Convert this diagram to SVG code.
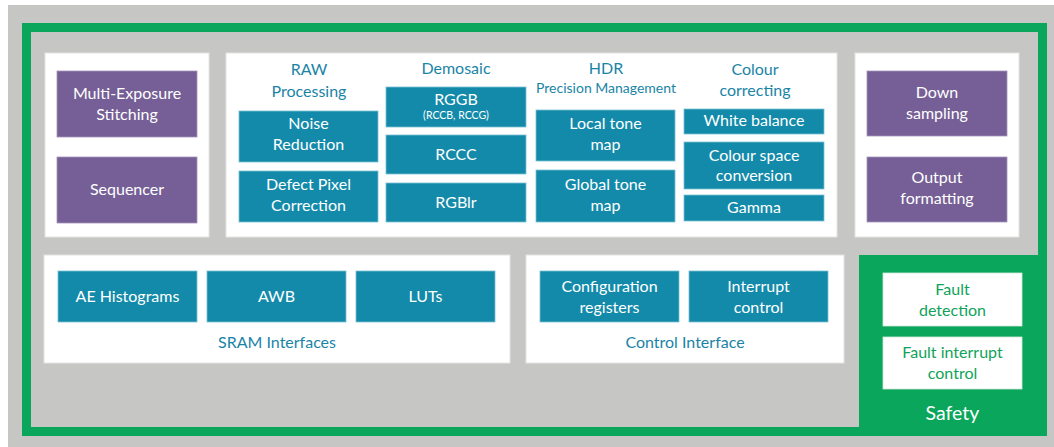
<svg xmlns="http://www.w3.org/2000/svg" width="1054" height="447" viewBox="0 0 1054 447">
<style>
text{font-family:Lato,"Open Sans","Liberation Sans",sans-serif;text-anchor:middle}
.panel{fill:#fff;stroke:#e4e4e4;stroke-width:1}
.pur{fill:#765f96;stroke:#a494bb;stroke-width:0.8}
.teal{fill:#138aaa;stroke:#7cc0d3;stroke-width:0.8}
.wbox{fill:#fff;stroke:#cfe9d9;stroke-width:0.8}
.t{fill:#fff;font-size:16px}
.lbl{fill:#1a84a6;font-size:16px}
.sm{fill:#1a84a6;font-size:14px}
.g{fill:#0fa35a;font-size:16px}
</style>
<rect x="8" y="5" width="1046" height="442" fill="#c6c6c4"/>
<rect x="26.5" y="27.5" width="1016" height="404" fill="none" stroke="#0aa65c" stroke-width="9"/>
<rect x="859" y="255" width="188" height="181" fill="#0aa65c"/>

<g id="panel-left"><rect class="panel" x="45" y="53" width="164" height="184"/></g>
<g id="panel-pipeline"><rect class="panel" x="226" y="53" width="611" height="184"/></g>
<g id="panel-right"><rect class="panel" x="855" y="53" width="164" height="184"/></g>

<g id="multi-exposure"><rect class="pur" x="57" y="71" width="140" height="66"/><text class="t" x="127" y="99">Multi-Exposure</text><text class="t" x="127" y="120">Stitching</text></g>
<g id="sequencer"><rect class="pur" x="57" y="157" width="140" height="66"/><text class="t" x="127" y="195">Sequencer</text></g>

<g id="raw"><text class="lbl" x="309" y="75">RAW</text><text class="lbl" x="309" y="97">Processing</text></g>
<g id="noise"><rect class="teal" x="239" y="111" width="139" height="51"/><text class="t" x="308.5" y="129">Noise</text><text class="t" x="308.5" y="150">Reduction</text></g>
<g id="defect"><rect class="teal" x="239" y="171" width="139" height="51"/><text class="t" x="308.5" y="190">Defect Pixel</text><text class="t" x="308.5" y="211">Correction</text></g>

<g id="demosaic"><text class="lbl" x="456" y="74">Demosaic</text></g>
<g id="rggb"><rect class="teal" x="386" y="87" width="140" height="40"/><text class="t" x="456" y="105">RGGB</text><text class="t" x="456" y="118.5" style="font-size:10.5px">(RCCB, RCCG)</text></g>
<g id="rccc"><rect class="teal" x="386" y="135" width="140" height="39"/><text class="t" x="456" y="160">RCCC</text></g>
<g id="rgbir"><rect class="teal" x="386" y="183" width="140" height="39"/><text class="t" x="456" y="208">RGBlr</text></g>

<g id="hdr"><text class="lbl" x="606" y="74">HDR</text><text class="sm" x="606" y="93">Precision Management</text></g>
<g id="local-tone"><rect class="teal" x="536" y="110" width="139" height="51"/><text class="t" x="605.5" y="129">Local tone</text><text class="t" x="605.5" y="150">map</text></g>
<g id="global-tone"><rect class="teal" x="536" y="170" width="139" height="52"/><text class="t" x="605.5" y="190">Global tone</text><text class="t" x="605.5" y="211">map</text></g>

<g id="colour"><text class="lbl" x="755" y="75">Colour</text><text class="lbl" x="755" y="96">correcting</text></g>
<g id="white-balance"><rect class="teal" x="684" y="109" width="140" height="25"/><text class="t" x="754" y="126">White balance</text></g>
<g id="colour-space"><rect class="teal" x="684" y="142" width="140" height="47"/><text class="t" x="754" y="161">Colour space</text><text class="t" x="754" y="181">conversion</text></g>
<g id="gamma"><rect class="teal" x="684" y="195" width="140" height="26"/><text class="t" x="754" y="213">Gamma</text></g>

<g id="down-sampling"><rect class="pur" x="867" y="71" width="140" height="65"/><text class="t" x="937" y="98">Down</text><text class="t" x="937" y="119">sampling</text></g>
<g id="output-formatting"><rect class="pur" x="867" y="157" width="140" height="65"/><text class="t" x="937" y="183">Output</text><text class="t" x="937" y="204">formatting</text></g>

<g id="sram"><rect class="panel" x="44" y="255" width="466" height="108"/><text class="lbl" x="277" y="348">SRAM Interfaces</text></g>
<g id="ae"><rect class="teal" x="58" y="271" width="139" height="51"/><text class="t" x="127.5" y="302">AE Histograms</text></g>
<g id="awb"><rect class="teal" x="207" y="271" width="139" height="51"/><text class="t" x="276.5" y="302">AWB</text></g>
<g id="luts"><rect class="teal" x="356" y="271" width="139" height="51"/><text class="t" x="425.5" y="302">LUTs</text></g>

<g id="control"><rect class="panel" x="526" y="255" width="318" height="108"/><text class="lbl" x="685" y="348">Control Interface</text></g>
<g id="config"><rect class="teal" x="540" y="271" width="139" height="51"/><text class="t" x="609.5" y="292">Configuration</text><text class="t" x="609.5" y="313">registers</text></g>
<g id="interrupt"><rect class="teal" x="689" y="271" width="139" height="51"/><text class="t" x="758.5" y="292">Interrupt</text><text class="t" x="758.5" y="313">control</text></g>

<g id="safety"><text x="952.5" y="420" style="fill:#fff;font-size:19.5px">Safety</text></g>
<g id="fault-detection"><rect class="wbox" x="883" y="273" width="139" height="53"/><text class="g" x="952.5" y="295">Fault</text><text class="g" x="952.5" y="316">detection</text></g>
<g id="fault-interrupt"><rect class="wbox" x="883" y="337" width="139" height="52"/><text class="g" x="952.5" y="358">Fault interrupt</text><text class="g" x="952.5" y="379">control</text></g>

<g id="connectors"></g>
</svg>
